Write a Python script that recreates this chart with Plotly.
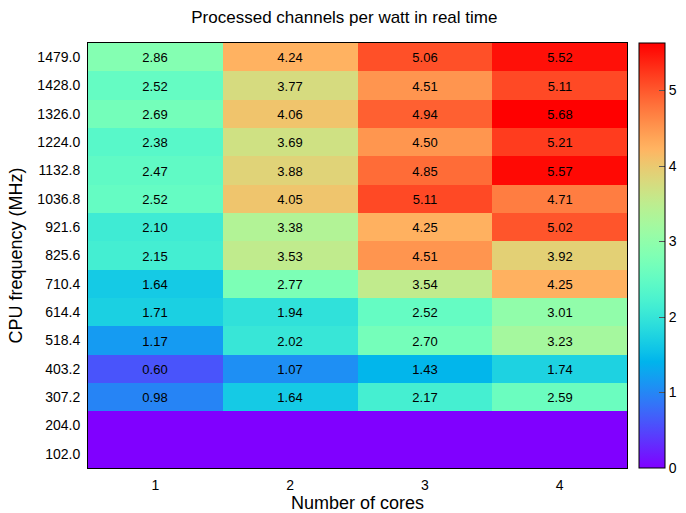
import numpy as np
import plotly.graph_objects as go

freqs = ["1479.0", "1428.0", "1326.0", "1224.0", "1132.8", "1036.8", "921.6", "825.6",
         "710.4", "614.4", "518.4", "403.2", "307.2", "204.0", "102.0"]
cores = [1, 2, 3, 4]
core1 = [2.86, 2.52, 2.69, 2.38, 2.47, 2.52, 2.10, 2.15, 1.64, 1.71, 1.17, 0.60, 0.98, 0, 0]
core2 = [4.24, 3.77, 4.06, 3.69, 3.88, 4.05, 3.38, 3.53, 2.77, 1.94, 2.02, 1.07, 1.64, 0, 0]
core3 = [5.06, 4.51, 4.94, 4.50, 4.85, 5.11, 4.25, 4.51, 3.54, 2.52, 2.70, 1.43, 2.17, 0, 0]
core4 = [5.52, 5.11, 5.68, 5.21, 5.57, 4.71, 5.02, 3.92, 4.25, 3.01, 3.23, 1.74, 2.59, 0, 0]

# gnuplot "rainbow" palette (rgbformulae 33,13,10)
def rainbow(x):
    r = min(1, abs(2 * x - 0.5))
    g = max(0, np.sin(np.pi * x))
    b = max(0, np.cos(np.pi * x / 2))
    return "rgb(%d,%d,%d)" % (round(r * 255), round(g * 255), round(b * 255))

cscale = [[i / 40, rainbow(i / 40)] for i in range(41)]

cols = [core1, core2, core3, core4]
n = len(freqs)
z = [[cols[c][r] for c in range(4)] for r in range(n)]
text = [["" if cols[c][r] == 0 else "%.2f" % cols[c][r] for c in range(4)] for r in range(n)]
yidx = list(range(n))[::-1]

fig = go.Figure(go.Heatmap(
    x=cores, y=yidx, z=z, text=text, texttemplate="%{text}",
    textfont=dict(size=13, color="black", family="Liberation Sans, Arial"),
    colorscale=cscale, zmin=0, zmax=5.63,
    colorbar=dict(x=1.0223, xanchor="left", y=0, yanchor="bottom", len=1, lenmode="fraction",
                  thickness=26, outlinewidth=1, outlinecolor="black",
                  tickvals=[0, 1, 2, 3, 4, 5], ticks="inside", ticklen=6, tickcolor="#555",
                  tickfont=dict(size=14, color="black"), xpad=0, ypad=0),
    hoverongaps=False, xgap=0, ygap=0,
))

fig.update_layout(
    width=686, height=513,
    margin=dict(l=88, r=59, t=43, b=45, autoexpand=False),
    paper_bgcolor="white", plot_bgcolor="white",
    font=dict(family="Liberation Sans, Arial", color="black"),
    title=dict(text="Processed channels per watt in real time", x=0.502, xanchor="center",
               xref="container", y=1 - 17 / 513, yanchor="middle", font=dict(size=17)),
    xaxis=dict(tickvals=cores, ticks="", showline=True, linecolor="black", linewidth=1, mirror=True,
               range=[0.5, 4.5], showgrid=False, zeroline=False, tickfont=dict(size=14),
               ticklabelstandoff=4,
               title=dict(text="Number of cores", font=dict(size=18), standoff=5)),
    yaxis=dict(tickvals=yidx, ticktext=freqs, ticks="", showline=True, linecolor="black", linewidth=1,
               mirror=True, range=[-0.5, n - 0.5], showgrid=False, zeroline=False, tickfont=dict(size=14),
               ticklabelstandoff=4,
               title=dict(text="CPU frequency (MHz)", font=dict(size=18), standoff=10)),
)

fig.write_html("out.html")
